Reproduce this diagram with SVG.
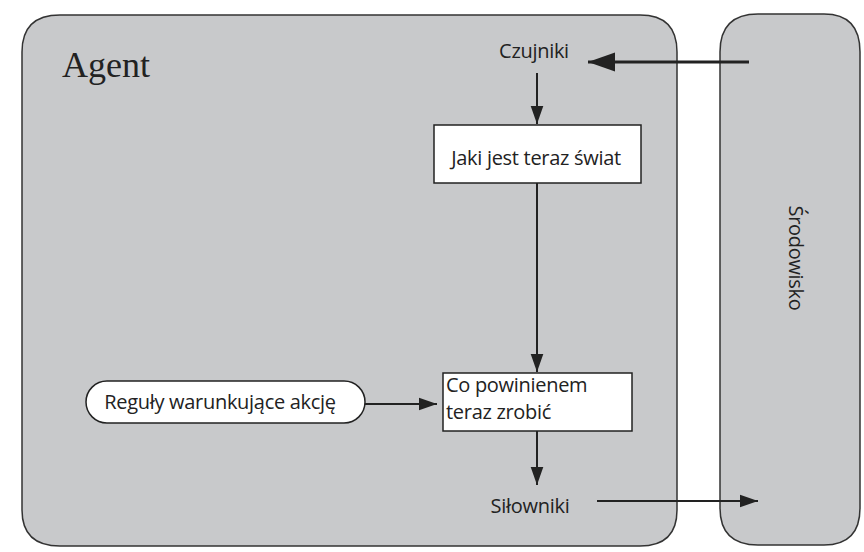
<svg xmlns="http://www.w3.org/2000/svg" width="864" height="552" viewBox="0 0 864 552">
<defs>
<style>
.panel{fill:#c8c9cb;stroke:#333;stroke-width:1.5}
.box{fill:#fff;stroke:#222;stroke-width:1.5}
.t{font-family:"Open Sans","Liberation Sans",sans-serif;font-size:20px;fill:#222;letter-spacing:-0.3px}
.line{stroke:#222;fill:none}
</style>
<marker id="ahL" viewBox="0 0 10 10" refX="10" refY="5" markerWidth="9" markerHeight="9" orient="auto">
<path d="M0,1.5 L10,5 L0,8.5 Z" fill="#222"/>
</marker>
</defs>
<rect width="864" height="552" fill="#fff"/>
<g id="agent">
<path class="panel" d="M60,15 H640 Q677,15 677,52 V510 Q677,546 640,546 H60 Q22,546 22,510 V52 Q22,15 60,15 Z"/>
<text x="62" y="77" font-family="Liberation Serif,serif" font-size="36" fill="#222">Agent</text>
</g>
<g id="environment">
<path class="panel" d="M758,14 H824 Q860,14 860,52 V508 Q860,545 824,545 H758 Q720,545 720,508 V52 Q720,14 758,14 Z"/>
<text class="t" transform="translate(789,258) rotate(90)" text-anchor="middle">Środowisko</text>
</g>
<g id="czujniki">
<text class="t" x="534" y="58" text-anchor="middle">Czujniki</text>
</g>
<g id="swiat">
<rect class="box" x="434" y="125" width="207" height="58"/>
<text class="t" x="536" y="165" text-anchor="middle">Jaki jest teraz świat</text>
</g>
<g id="decyzja">
<rect class="box" x="443" y="373" width="189" height="58"/>
<text class="t" x="446" y="392" font-size="19">Co powinienem</text>
<text class="t" x="446" y="419" font-size="19">teraz zrobić</text>
</g>
<g id="reguly">
<rect class="box" x="86" y="381" width="279" height="42" rx="21" ry="21"/>
<text class="t" x="220" y="409" text-anchor="middle">Reguły warunkujące akcję</text>
</g>
<g id="silowniki">
<text class="t" x="530" y="513" text-anchor="middle">Siłowniki</text>
</g>
<g id="connectors">
<line class="line" stroke-width="3" x1="749" y1="62" x2="588" y2="62" marker-end="url(#ahL)"/>
<line class="line" stroke-width="2" x1="537" y1="73" x2="537" y2="124" marker-end="url(#ahL)"/>
<line class="line" stroke-width="2" x1="537" y1="183" x2="537" y2="372" marker-end="url(#ahL)"/>
<line class="line" stroke-width="2" x1="365" y1="404" x2="437" y2="404" marker-end="url(#ahL)"/>
<line class="line" stroke-width="2" x1="537" y1="431" x2="537" y2="485" marker-end="url(#ahL)"/>
<line class="line" stroke-width="2" x1="597" y1="501" x2="758" y2="501" marker-end="url(#ahL)"/>
</g>
</svg>
